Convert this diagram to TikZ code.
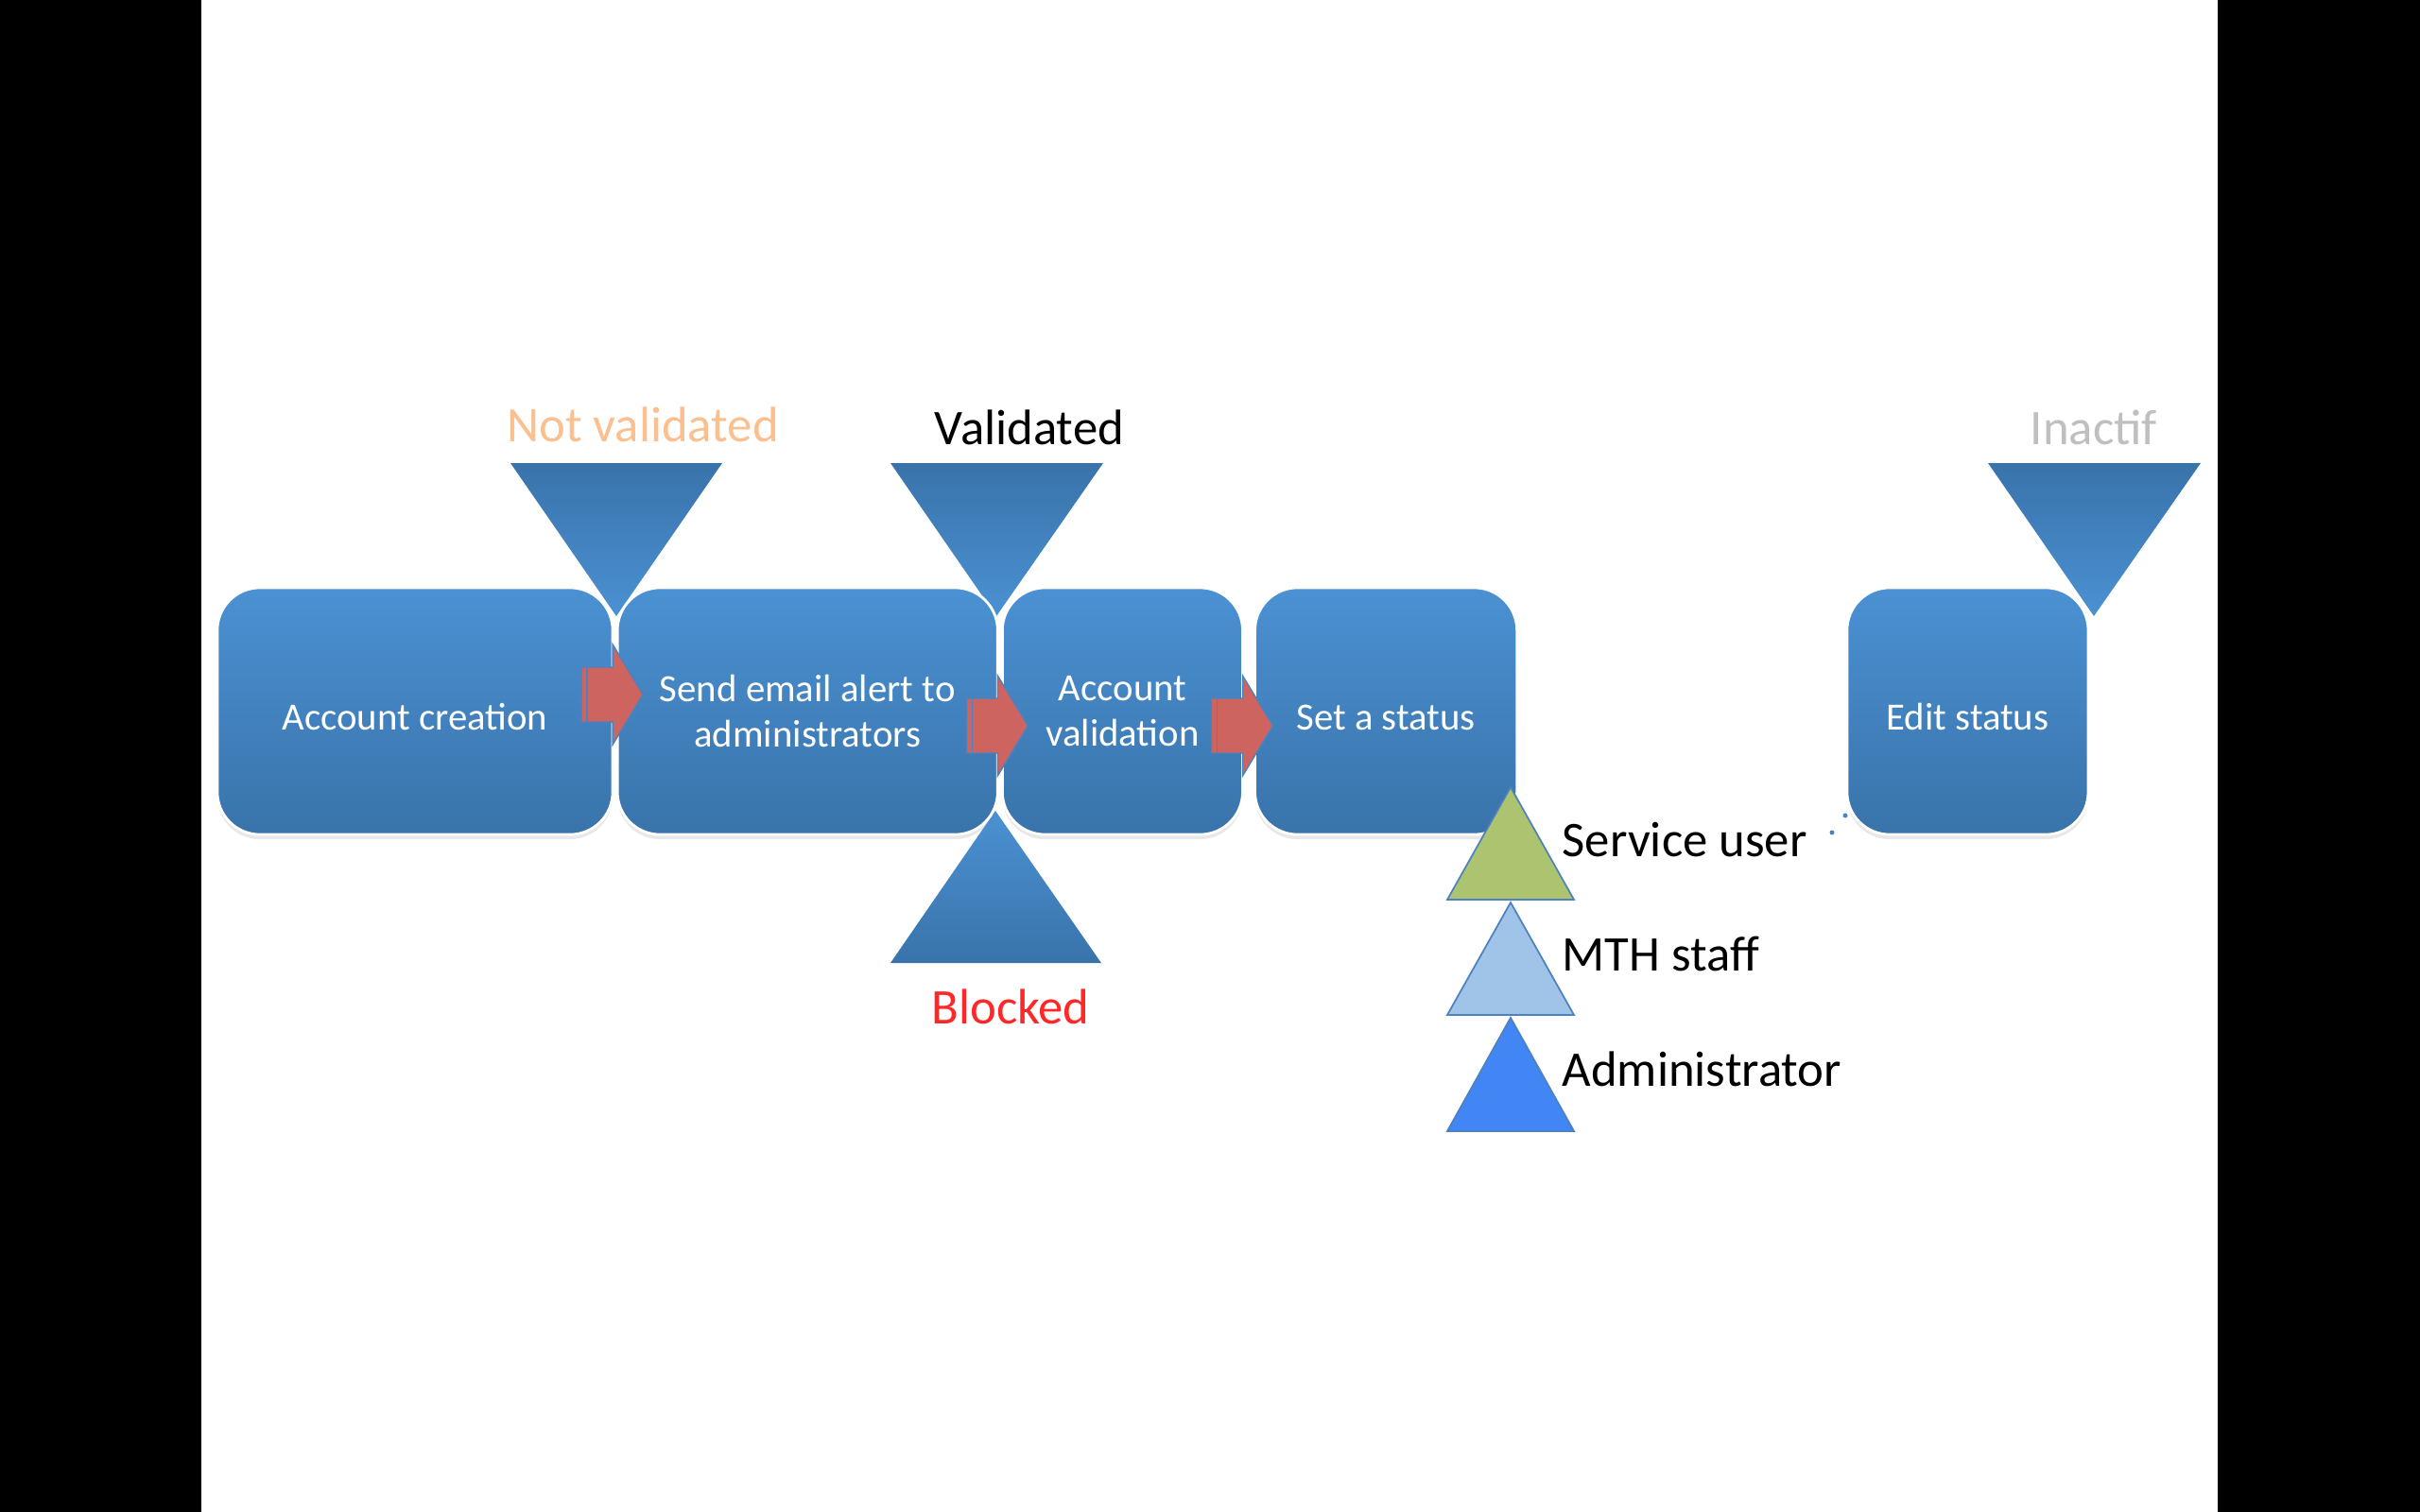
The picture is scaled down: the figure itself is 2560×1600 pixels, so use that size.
\documentclass[tikz,border=0pt]{standalone}
\usepackage{fontspec}
\setmainfont{Carlito}
\usetikzlibrary{positioning, shadows}
\definecolor{boxtop}{RGB}{75,145,211}
\definecolor{boxbottom}{RGB}{57,115,170}
\definecolor{arrowred}{RGB}{205,100,95}
\definecolor{edgeblue}{RGB}{79,129,189}
\definecolor{usergreen}{RGB}{172,196,111}
\definecolor{staffblue}{RGB}{160,195,232}
\definecolor{adminblue}{RGB}{66,134,245}
\definecolor{notvalorange}{RGB}{250,192,144}
\definecolor{blockedred}{RGB}{255,40,40}
\definecolor{inactgray}{RGB}{191,191,191}
\tikzset{
    x=0.01cm, y=-0.01cm, % one unit is one pixel of the slide, y runs downwards
    process/.style={rounded corners=0.45cm, minimum height=2.61cm, outer sep=0pt,
        top color=boxtop, bottom color=boxbottom, draw=white, line width=0.8pt,
        text=white, align=center, font=\fontsize{11.6}{13.7}\selectfont,
        execute at begin node={\rule{0pt}{0.4cm}}, % pushes the text a little down
        drop shadow={opacity=0.18, shadow xshift=0cm, shadow yshift=-0.05cm}}, % the blue steps
    funnel/.style={top color=boxbottom, bottom color=boxtop}, % triangles pointing down
    flag/.style={top color=boxtop, bottom color=boxbottom}, % triangle pointing up
    role/.style={draw=edgeblue, line width=0.5pt}, % the three user triangles
    status/.style={inner sep=0pt, anchor=base, font=\fontsize{15}{18}\selectfont}, % texts over the triangles
    flowarrow/.style={fill=arrowred, draw=edgeblue, line width=0.4pt}, % red block arrows
}
% red block arrow sitting on the east side of a step, #2 = vertical offset
\newcommand\flowarrow[2]{
    \draw[flowarrow] ([shift={(-33,#2-29)}]#1.east) -- ++(33,0) -- ++(0,-24) -- ++(32,53)
        -- ++(-32,53) -- ++(0,-24) -- ++(-33,0) -- cycle;
    \draw[edgeblue, line width=0.4pt] ([shift={(-27,#2-29)}]#1.east) -- ++(0,58);
}

\begin{document}
\begin{tikzpicture}
\useasboundingbox (0,0) rectangle (2560,1600);
\fill[black] (0,0) rectangle (213,1600);
\fill[black] (2346,0) rectangle (2560,1600);

% status triangles behind the steps
\shade[funnel] (540,490) -- (764,490) -- (652,652) -- cycle;
\shade[funnel] (942,490) -- (1167,490) -- (1054,652) -- cycle;
\shade[funnel] (2103,490) -- (2328,490) -- (2215,652) -- cycle;
\shade[flag] (1053,858) -- (1165,1019) -- (942,1019) -- cycle;

% steps
\node[process, minimum width=4.18cm] (creation) at (439,752.5) {Account creation};
\node[process, minimum width=4.02cm, right=0.05cm of creation] (alert) {Send email alert to\\administrators};
\node[process, minimum width=2.54cm, right=0.05cm of alert] (validation) {Account\\validation};
\node[process, minimum width=2.77cm, right=0.13cm of validation] (setstatus) {Set a status};
\node[process, minimum width=2.55cm, right=3.49cm of setstatus] (editstatus) {Edit status};

\flowarrow{creation}{-17.5}
\flowarrow{alert}{15.5}
\flowarrow{validation}{15.5}

% user roles
\filldraw[role, fill=usergreen] (1598,833) -- (1665,952) -- (1531,952) -- cycle;
\filldraw[role, fill=staffblue] (1598,955) -- (1665,1074) -- (1531,1074) -- cycle;
\filldraw[role, fill=adminblue] (1598,1077) -- (1665,1197) -- (1531,1197) -- cycle;

\node[status, text=notvalorange] (notvalidated) at (680,467) {Not validated};
\node[status] (validated) at (1089,470) {Validated};
\node[status, text=blockedred] (blocked) at (1069,1083) {Blocked};
\node[status, text=inactgray] (inactif) at (2215,470) {Inactif};
\node[status, anchor=base west] (serviceuser) at (1652,906) {Service user};
\node[status, anchor=base west] (mthstaff) at (1652,1027) {MTH staff};
\node[status, anchor=base west] (administrator) at (1652,1149) {Administrator};

\fill[edgeblue] (1952,863) circle (0.025cm);
\fill[edgeblue] (1938,881) circle (0.025cm);
\end{tikzpicture}
\end{document}
